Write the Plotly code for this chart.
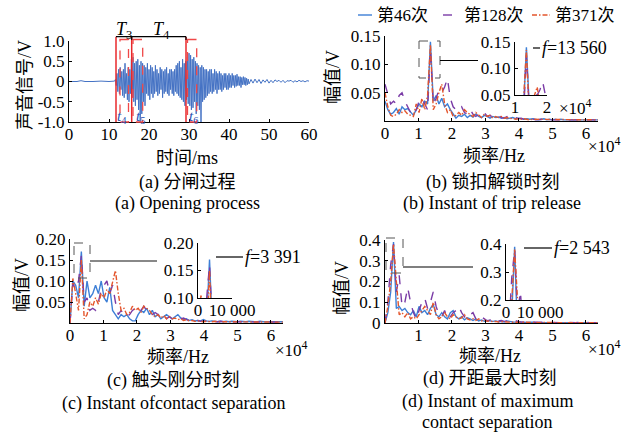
import plotly.graph_objects as go

# ---------------- data ----------------
SERIES_NAMES = ["第46次", "第128次", "第371次"]
SERIES_COLORS = ["#3D7FD6", "#7A3BA6", "#E4552C"]
SERIES_DASH = ["solid", "dash", "5px,2px,1.5px,2px"]

# (a) acoustic signal, ms / V
t_quiet = [0.0, 2.0, 3.0, 4.0, 6.0, 8.0, 10.0, 11.4]
v_quiet = [0.0, 0.0, 0.02, 0.0, 0.0, 0.01, 0.0, 0.01]
DENSE_T0 = 11.6
DENSE_DT = 0.2
v_dense = [
    0.05, -0.10, 0.20, -0.25, 0.30,
    -0.30, 0.35, -0.20, 0.25, -0.35,
    0.30, -0.40, 0.45, -0.30, 0.20,
    -0.45, 0.35, -0.50, 0.30, -0.30,
    0.55, -0.40, 0.60, -0.50, 0.45,
    -0.60, 0.50, -0.45, 0.55, -0.70,
    0.40, -1.00, 0.50, -0.80, 0.45,
    -0.50, 0.40, -0.60, 0.35, -0.30,
    0.45, -0.35, 0.30, -0.45, 0.40,
    -0.30, 0.35, -0.40, 0.25, -0.30,
    0.40, -0.25, 0.30, -0.35, 0.20,
    -0.30, 0.35, -0.20, 0.30, -0.40,
    0.25, -0.30, 0.30, -0.25, 0.35,
    -0.30, 0.20, -0.35, 0.30, -0.20,
    0.30, -0.30, 0.25, -0.35, 0.30,
    -0.25, 0.40, -0.30, 0.45, -0.35,
    0.50, -0.40, 0.35, -0.45, 0.55,
    -0.50, 0.45, -0.60, 0.50, -0.45,
    0.60, -0.55, 0.70, -0.60, 0.65,
    -0.70, 0.55, -0.65, 0.60, -0.50,
    0.50, -0.80, 0.45, -0.60, 0.40,
    -0.70, 0.35, -1.00, 0.40, -0.50,
    0.35, -0.45, 0.30, -0.40, 0.30,
    -0.35, 0.25, -0.30, 0.30, -0.25,
    0.30, -0.30, 0.20, -0.25, 0.30,
    -0.20, 0.25, -0.30, 0.20, -0.20,
    0.25, -0.20, 0.20, -0.25, 0.15,
    -0.20, 0.20, -0.15, 0.20, -0.20,
    0.15, -0.20, 0.20, -0.15, 0.15,
    -0.15, 0.20, -0.10, 0.15, -0.15,
    0.15, -0.12, 0.18, -0.10, 0.12,
    -0.10, 0.12, -0.15, 0.10, -0.08,
    0.12, -0.08, 0.10, -0.10, 0.08,
    -0.08, 0.06, -0.06,
]
TAIL_T0 = 45.5
TAIL_DT = 0.5
v_tail = [0.05, -0.04, 0.06, -0.03, 0.05, -0.05, 0.04, -0.02, 0.05, -0.04,
          0.03, -0.03, 0.04, 0.00, 0.03, -0.02, 0.03, -0.03, 0.02, 0.01,
          0.03, -0.02, 0.02, -0.01, 0.03, 0.00, 0.02, -0.01, 0.02, 0.01]

# spectra: FFT bins with 847.6 Hz spacing
FREQ_STEP_HZ = 847.6
spec_b = {
    "第46次": [0.035, 0.020, 0.012, 0.015, 0.022, 0.012, 0.025, 0.020, 0.022, 0.015,
              0.010, 0.020, 0.030, 0.025, 0.035, 0.030, 0.140, 0.035, 0.045, 0.030,
              0.040, 0.025, 0.030, 0.020, 0.012, 0.005, 0.010, 0.008, 0.012, 0.006,
              0.010, 0.007, 0.012, 0.008, 0.006, 0.010, 0.008, 0.005, 0.008, 0.006,
              0.007, 0.005, 0.006, 0.004, 0.005, 0.006, 0.004, 0.005, 0.004, 0.003,
              0.004, 0.003, 0.004, 0.003, 0.002, 0.003, 0.004, 0.002, 0.003, 0.002,
              0.003, 0.002, 0.003, 0.002, 0.002, 0.003, 0.002, 0.002, 0.003, 0.002,
              0.002, 0.003, 0.002, 0.002, 0.003, 0.002],
    "第128次": [0.065, 0.045, 0.030, 0.035, 0.030, 0.045, 0.050, 0.035, 0.025, 0.015,
               0.010, 0.020, 0.035, 0.040, 0.030, 0.020, 0.125, 0.030, 0.040, 0.055,
               0.050, 0.060, 0.075, 0.040, 0.025, 0.020, 0.018, 0.025, 0.015, 0.012,
               0.020, 0.012, 0.008, 0.012, 0.010, 0.015, 0.008, 0.010, 0.006, 0.008,
               0.010, 0.006, 0.005, 0.008, 0.005, 0.004, 0.006, 0.004, 0.005, 0.003,
               0.004, 0.003, 0.004, 0.002, 0.003, 0.003, 0.002, 0.003, 0.002, 0.002,
               0.003, 0.002, 0.002, 0.003, 0.002, 0.002, 0.002, 0.003, 0.002, 0.002,
               0.002, 0.002, 0.003, 0.002, 0.002, 0.002],
    "第371次": [0.050, 0.025, 0.010, 0.008, 0.012, 0.020, 0.015, 0.018, 0.012, 0.010,
               0.008, 0.030, 0.015, 0.040, 0.020, 0.045, 0.135, 0.020, 0.030, 0.050,
               0.065, 0.030, 0.015, 0.020, 0.008, 0.010, 0.015, 0.010, 0.020, 0.015,
               0.012, 0.008, 0.015, 0.010, 0.006, 0.012, 0.008, 0.010, 0.005, 0.008,
               0.006, 0.008, 0.005, 0.006, 0.004, 0.005, 0.003, 0.004, 0.003, 0.004,
               0.003, 0.002, 0.003, 0.003, 0.002, 0.002, 0.003, 0.002, 0.002, 0.003,
               0.002, 0.002, 0.003, 0.002, 0.002, 0.002, 0.003, 0.002, 0.002, 0.002,
               0.002, 0.002, 0.002, 0.003, 0.002, 0.002],
}
spec_c = {
    "第46次": [0.000, 0.100, 0.090, 0.060, 0.170, 0.040, 0.100, 0.060, 0.070, 0.090,
              0.070, 0.100, 0.060, 0.050, 0.085, 0.030, 0.020, 0.010, 0.020, 0.015,
              0.020, 0.010, 0.005, 0.005, 0.020, 0.030, 0.025, 0.035, 0.020, 0.030,
              0.015, 0.020, 0.010, 0.015, 0.020, 0.015, 0.010, 0.015, 0.020, 0.012,
              0.008, 0.010, 0.006, 0.008, 0.005, 0.006, 0.005, 0.008, 0.005, 0.004,
              0.005, 0.004, 0.003, 0.004, 0.003, 0.004, 0.003, 0.004, 0.003, 0.003,
              0.004, 0.003, 0.003, 0.004, 0.003, 0.003, 0.003, 0.004, 0.003, 0.003,
              0.003, 0.004, 0.003, 0.003, 0.003, 0.003],
    "第128次": [0.000, 0.095, 0.080, 0.100, 0.160, 0.050, 0.060, 0.030, 0.035, 0.030,
               0.050, 0.080, 0.090, 0.100, 0.070, 0.090, 0.050, 0.020, 0.030, 0.020,
               0.015, 0.020, 0.030, 0.035, 0.040, 0.030, 0.040, 0.030, 0.020, 0.020,
               0.025, 0.020, 0.015, 0.020, 0.010, 0.015, 0.010, 0.012, 0.008, 0.010,
               0.012, 0.008, 0.006, 0.008, 0.005, 0.006, 0.004, 0.005, 0.004, 0.003,
               0.004, 0.003, 0.003, 0.004, 0.003, 0.003, 0.003, 0.002, 0.003, 0.003,
               0.003, 0.002, 0.003, 0.003, 0.002, 0.003, 0.002, 0.003, 0.002, 0.003,
               0.002, 0.003, 0.002, 0.002, 0.003, 0.002],
    "第371次": [0.000, 0.106, 0.070, 0.030, 0.150, 0.010, 0.020, 0.050, 0.040, 0.060,
               0.045, 0.070, 0.060, 0.080, 0.070, 0.100, 0.125, 0.070, 0.030, 0.035,
               0.020, 0.025, 0.040, 0.030, 0.035, 0.025, 0.040, 0.035, 0.030, 0.020,
               0.015, 0.020, 0.012, 0.018, 0.010, 0.015, 0.010, 0.012, 0.008, 0.010,
               0.006, 0.008, 0.005, 0.006, 0.004, 0.005, 0.004, 0.003, 0.004, 0.003,
               0.003, 0.004, 0.003, 0.002, 0.003, 0.003, 0.002, 0.003, 0.002, 0.002,
               0.003, 0.002, 0.002, 0.003, 0.002, 0.002, 0.002, 0.003, 0.002, 0.002,
               0.002, 0.002, 0.003, 0.002, 0.002, 0.002],
}
spec_d = {
    "第46次": [0.000, 0.050, 0.150, 0.390, 0.070, 0.080, 0.060, 0.070, 0.050, 0.040,
              0.060, 0.030, 0.080, 0.050, 0.060, 0.040, 0.070, 0.090, 0.040, 0.030,
              0.050, 0.030, 0.020, 0.050, 0.060, 0.030, 0.020, 0.030, 0.015, 0.025,
              0.020, 0.012, 0.020, 0.010, 0.015, 0.008, 0.012, 0.010, 0.008, 0.010,
              0.006, 0.008, 0.005, 0.010, 0.006, 0.005, 0.004, 0.005, 0.004, 0.003,
              0.004, 0.003, 0.004, 0.003, 0.003, 0.004, 0.003, 0.003, 0.002, 0.003,
              0.003, 0.002, 0.003, 0.003, 0.002, 0.003, 0.002, 0.003, 0.002, 0.002,
              0.003, 0.002, 0.002, 0.003, 0.002, 0.002],
    "第128次": [0.000, 0.100, 0.280, 0.380, 0.150, 0.230, 0.080, 0.100, 0.170, 0.100,
               0.050, 0.020, 0.060, 0.100, 0.120, 0.070, 0.100, 0.150, 0.080, 0.040,
               0.030, 0.060, 0.020, 0.030, 0.050, 0.060, 0.080, 0.050, 0.030, 0.020,
               0.040, 0.050, 0.020, 0.015, 0.030, 0.020, 0.010, 0.015, 0.010, 0.020,
               0.010, 0.012, 0.008, 0.010, 0.008, 0.006, 0.012, 0.006, 0.005, 0.004,
               0.005, 0.004, 0.003, 0.004, 0.003, 0.003, 0.004, 0.003, 0.003, 0.002,
               0.003, 0.003, 0.002, 0.003, 0.002, 0.003, 0.002, 0.002, 0.003, 0.002,
               0.002, 0.003, 0.002, 0.002, 0.002, 0.002],
    "第371次": [0.000, 0.080, 0.200, 0.380, 0.200, 0.040, 0.050, 0.030, 0.050, 0.020,
               0.030, 0.020, 0.040, 0.060, 0.080, 0.060, 0.040, 0.100, 0.040, 0.020,
               0.030, 0.050, 0.030, 0.020, 0.040, 0.030, 0.020, 0.025, 0.040, 0.020,
               0.015, 0.020, 0.012, 0.020, 0.010, 0.015, 0.008, 0.010, 0.006, 0.008,
               0.005, 0.006, 0.004, 0.005, 0.004, 0.003, 0.004, 0.003, 0.003, 0.004,
               0.003, 0.002, 0.003, 0.003, 0.002, 0.002, 0.003, 0.002, 0.002, 0.003,
               0.002, 0.002, 0.003, 0.002, 0.002, 0.002, 0.003, 0.002, 0.002, 0.002,
               0.002, 0.002, 0.002, 0.003, 0.002, 0.002],
}
PEAK_LABELS = ["13 560", "3 391", "2 543"]

# ---------------- helpers ----------------
W, H = 630, 434
FONT = "Liberation Serif, Times New Roman, Noto Sans CJK SC"
TICK_FS = 17
TITLE_FS = 18
CAP_FS = 18


def PX(x):
    return x / W


def PY(y):
    return 1 - y / H


t_dense = [round(DENSE_T0 + DENSE_DT * i, 2) for i in range(len(v_dense))]
t_tail = [round(TAIL_T0 + TAIL_DT * i, 2) for i in range(len(v_tail))]
t_sig = t_quiet + t_dense + t_tail
v_sig = v_quiet + v_dense + v_tail

n_bins = len(spec_b["第46次"])
freq_hz = [k * FREQ_STEP_HZ for k in range(n_bins)]

fig = go.Figure()

# (a)
fig.add_trace(go.Scatter(x=t_sig, y=v_sig, mode="lines", xaxis="x", yaxis="y",
                         line=dict(color="#4472C4", width=1), showlegend=False))

# spectra and insets
panels = [(spec_b, "x2", "y2", "x5", "y5"),
          (spec_c, "x3", "y3", "x6", "y6"),
          (spec_d, "x4", "y4", "x7", "y7")]
for spec, xa, ya, xi, yi in panels:
    for name, col, dash in zip(SERIES_NAMES, SERIES_COLORS, SERIES_DASH):
        for xx, yy in ((xa, ya), (xi, yi)):
            fig.add_trace(go.Scatter(x=freq_hz, y=spec[name], mode="lines",
                                     xaxis=xx, yaxis=yy, name=name,
                                     line=dict(color=col, width=1.4, dash=dash),
                                     showlegend=False))


def axis(dom, rng, tickvals, ticktext, anchor, standoff=0):
    return dict(domain=dom, range=rng, tickvals=tickvals, ticktext=ticktext,
                anchor=anchor, showline=True, linecolor="black", linewidth=1,
                ticks="inside", ticklen=3, tickwidth=1, tickcolor="black",
                ticklabelstandoff=standoff,
                showgrid=False, zeroline=False, mirror=False,
                tickfont=dict(family=FONT, size=TICK_FS, color="black"))


xt_main = [0, 10000, 20000, 30000, 40000, 50000, 60000]
xl_main = ["0", "1", "2", "3", "4", "5", "6"]
XS = -3  # pull x tick labels a little closer to the axis

layout = dict(
    autosize=True, margin=dict(l=0, r=0, t=0, b=0, autoexpand=False),
    paper_bgcolor="white", plot_bgcolor="white", showlegend=False,
    font=dict(family=FONT, size=TITLE_FS, color="black"),
    # (a)
    xaxis=axis([PX(69), PX(309)], [0, 60], [0, 10, 20, 30, 40, 50, 60],
               ["0", "10", "20", "30", "40", "50", "60"], "y", XS),
    yaxis=axis([PY(122), PY(41)], [-1, 1], [-1, -0.5, 0, 0.5, 1],
               ["-1.0", "-0.5", "0", "0.5", "1.0"], "x"),
    # (b)
    xaxis2=axis([PX(385), PX(598)], [0, 63600], xt_main, xl_main, "y2", XS),
    yaxis2=axis([PY(121), PY(36)], [0, 0.15], [0.05, 0.10, 0.15],
                ["0.05", "0.10", "0.15"], "x2"),
    # (c)
    xaxis3=axis([PX(70), PX(283)], [0, 63600], xt_main, xl_main, "y3", XS),
    yaxis3=axis([PY(323), PY(239)], [0, 0.20], [0.05, 0.10, 0.15, 0.20],
                ["0.05", "0.10", "0.15", "0.20"], "x3"),
    # (d)
    xaxis4=axis([PX(385), PX(598)], [0, 63600], xt_main[1:], xl_main[1:], "y4", XS),
    yaxis4=axis([PY(323), PY(240)], [0, 0.4], [0, 0.1, 0.2, 0.3, 0.4],
                ["0", "0.1", "0.2", "0.3", "0.4"], "x4"),
    # insets
    xaxis5=axis([PX(515), PX(547)], [10000, 20000], [10000, 20000], ["1", "2"], "y5", XS),
    yaxis5=axis([PY(95), PY(42)], [0.05, 0.15], [0.05, 0.10, 0.15],
                ["0.05", "0.10", "0.15"], "x5"),
    xaxis6=axis([PX(198), PX(232)], [0, 10000], [0, 10000], ["0", "10 000"], "y6", XS),
    yaxis6=axis([PY(298), PY(243)], [0.10, 0.20], [0.10, 0.15, 0.20],
                ["0.10", "0.15", "0.20"], "x6"),
    xaxis7=axis([PX(506), PX(540)], [0, 10000], [0, 10000], ["0", "10 000"], "y7", XS),
    yaxis7=axis([PY(300), PY(244)], [0.2, 0.4], [0.2, 0.3, 0.4],
                ["0.2", "0.3", "0.4"], "x7"),
)
fig.update_layout(**layout)

ann = []


def text(x, y, s, size=TITLE_FS, angle=0, color="black", xanchor="center"):
    ann.append(dict(x=PX(x), y=PY(y), xref="paper", yref="paper", text=s,
                    showarrow=False, textangle=angle, xanchor=xanchor,
                    yanchor="middle", font=dict(family=FONT, size=size, color=color)))


shapes = []


def line(x0, y0, x1, y1, color="black", width=1, dash="solid"):
    shapes.append(dict(type="line", xref="paper", yref="paper",
                       x0=PX(x0), y0=PY(y0), x1=PX(x1), y1=PY(y1),
                       line=dict(color=color, width=width, dash=dash)))


def rect(x0, y0, x1, y1, color, width=1, dash="dash"):
    shapes.append(dict(type="rect", xref="paper", yref="paper",
                       x0=PX(x0), y0=PY(y0), x1=PX(x1), y1=PY(y1),
                       line=dict(color=color, width=width, dash=dash)))


# axis titles
text(25, 85, "声音信号/V", angle=-90)
text(187, 158, "时间/ms")
text(333, 77, "幅值/V", angle=-90)
text(494, 156, "频率/Hz")
text(22, 285, "幅值/V", angle=-90)
text(178, 357, "频率/Hz")
text(342, 288, "幅值/V", angle=-90)
text(490, 356, "频率/Hz")
for x, y in ((586, 145), (273, 349), (586, 348)):
    text(x, y, "×10<sup>4</sup>", size=TICK_FS, xanchor="left")
text(557, 107, "×10<sup>4</sup>", size=TICK_FS, xanchor="left")

# captions
text(187, 182, "(a) 分闸过程", size=CAP_FS)
text(187, 203, "(a) Opening process", size=CAP_FS)
text(493, 182, "(b) 锁扣解锁时刻", size=CAP_FS)
text(492, 203, "(b) Instant of trip release", size=CAP_FS)
text(173, 380, "(c) 触头刚分时刻", size=CAP_FS)
text(173, 403, "(c) Instant ofcontact separation", size=CAP_FS)
text(490, 378, "(d) 开距最大时刻", size=CAP_FS)
text(487, 401, "(d) Instant of maximum", size=CAP_FS)
text(487, 422, "contact separation", size=CAP_FS)

# legend (manual)
leg_x = [(358, 372, 375), (443, 460, 462), (532, 550, 553)]
for (lx0, lx1, tx), name, col, dash in zip(leg_x, SERIES_NAMES, SERIES_COLORS, SERIES_DASH):
    line(lx0, 15, lx1, 15, color=col, width=1.4, dash=dash)
    text(tx, 15, name, size=17, xanchor="left")

# (a) markers
for x0, x1, x2 in ((116, 120, 128.5), (131.7, 133, 142.7), (186, 187.5, 196.7)):
    line(x0, 36.7, x0, 122, color="#E8282B", width=1.5)
    rect(x1, 39.5, x2, 122, color="#F04848", width=1.3, dash="dash")
line(116, 36.7, 186, 36.7, color="black", width=1.2)
line(131.7, 36.7, 131.7, 40, color="black", width=1.2)
line(186, 36.7, 186, 40, color="black", width=1.2)
text(124, 30, "<i>T</i><sub>3</sub>")
text(161, 30, "<i>T</i><sub>4</sub>")
text(122, 117, "<i>t</i><sub>4</sub>", size=15, color="#2A4FB0")
text(140, 117, "<i>t</i><sub>5</sub>", size=15, color="#2A4FB0")
text(193, 117, "<i>t</i><sub>6</sub>", size=15, color="#2A4FB0")

# zoom boxes + connector lines
rect(419, 41, 440, 78, color="#555555", width=1, dash="dash")
line(440, 60.5, 478, 60.5, color="black", width=1.2)
rect(74, 243, 90, 278, color="#555555", width=1, dash="dash")
line(90, 261, 157, 261, color="#888888", width=2)
rect(386, 238, 403, 273, color="#555555", width=1, dash="dash")
line(403, 267, 473, 267, color="black", width=1.2)

# peak labels
line(533, 48, 540, 48, width=1.2)
text(540, 48, "<i>f</i>=" + PEAK_LABELS[0], xanchor="left")
line(216, 257, 243, 257, width=1.2)
text(243, 257, "<i>f</i>=" + PEAK_LABELS[1], xanchor="left")
line(524, 248, 552, 248, width=1.2)
text(552, 248, "<i>f</i>=" + PEAK_LABELS[2], xanchor="left")

fig.update_layout(annotations=ann, shapes=shapes)
fig.write_html("out.html",
               default_width="630px;position:absolute;left:0;top:0",
               default_height="434px")
